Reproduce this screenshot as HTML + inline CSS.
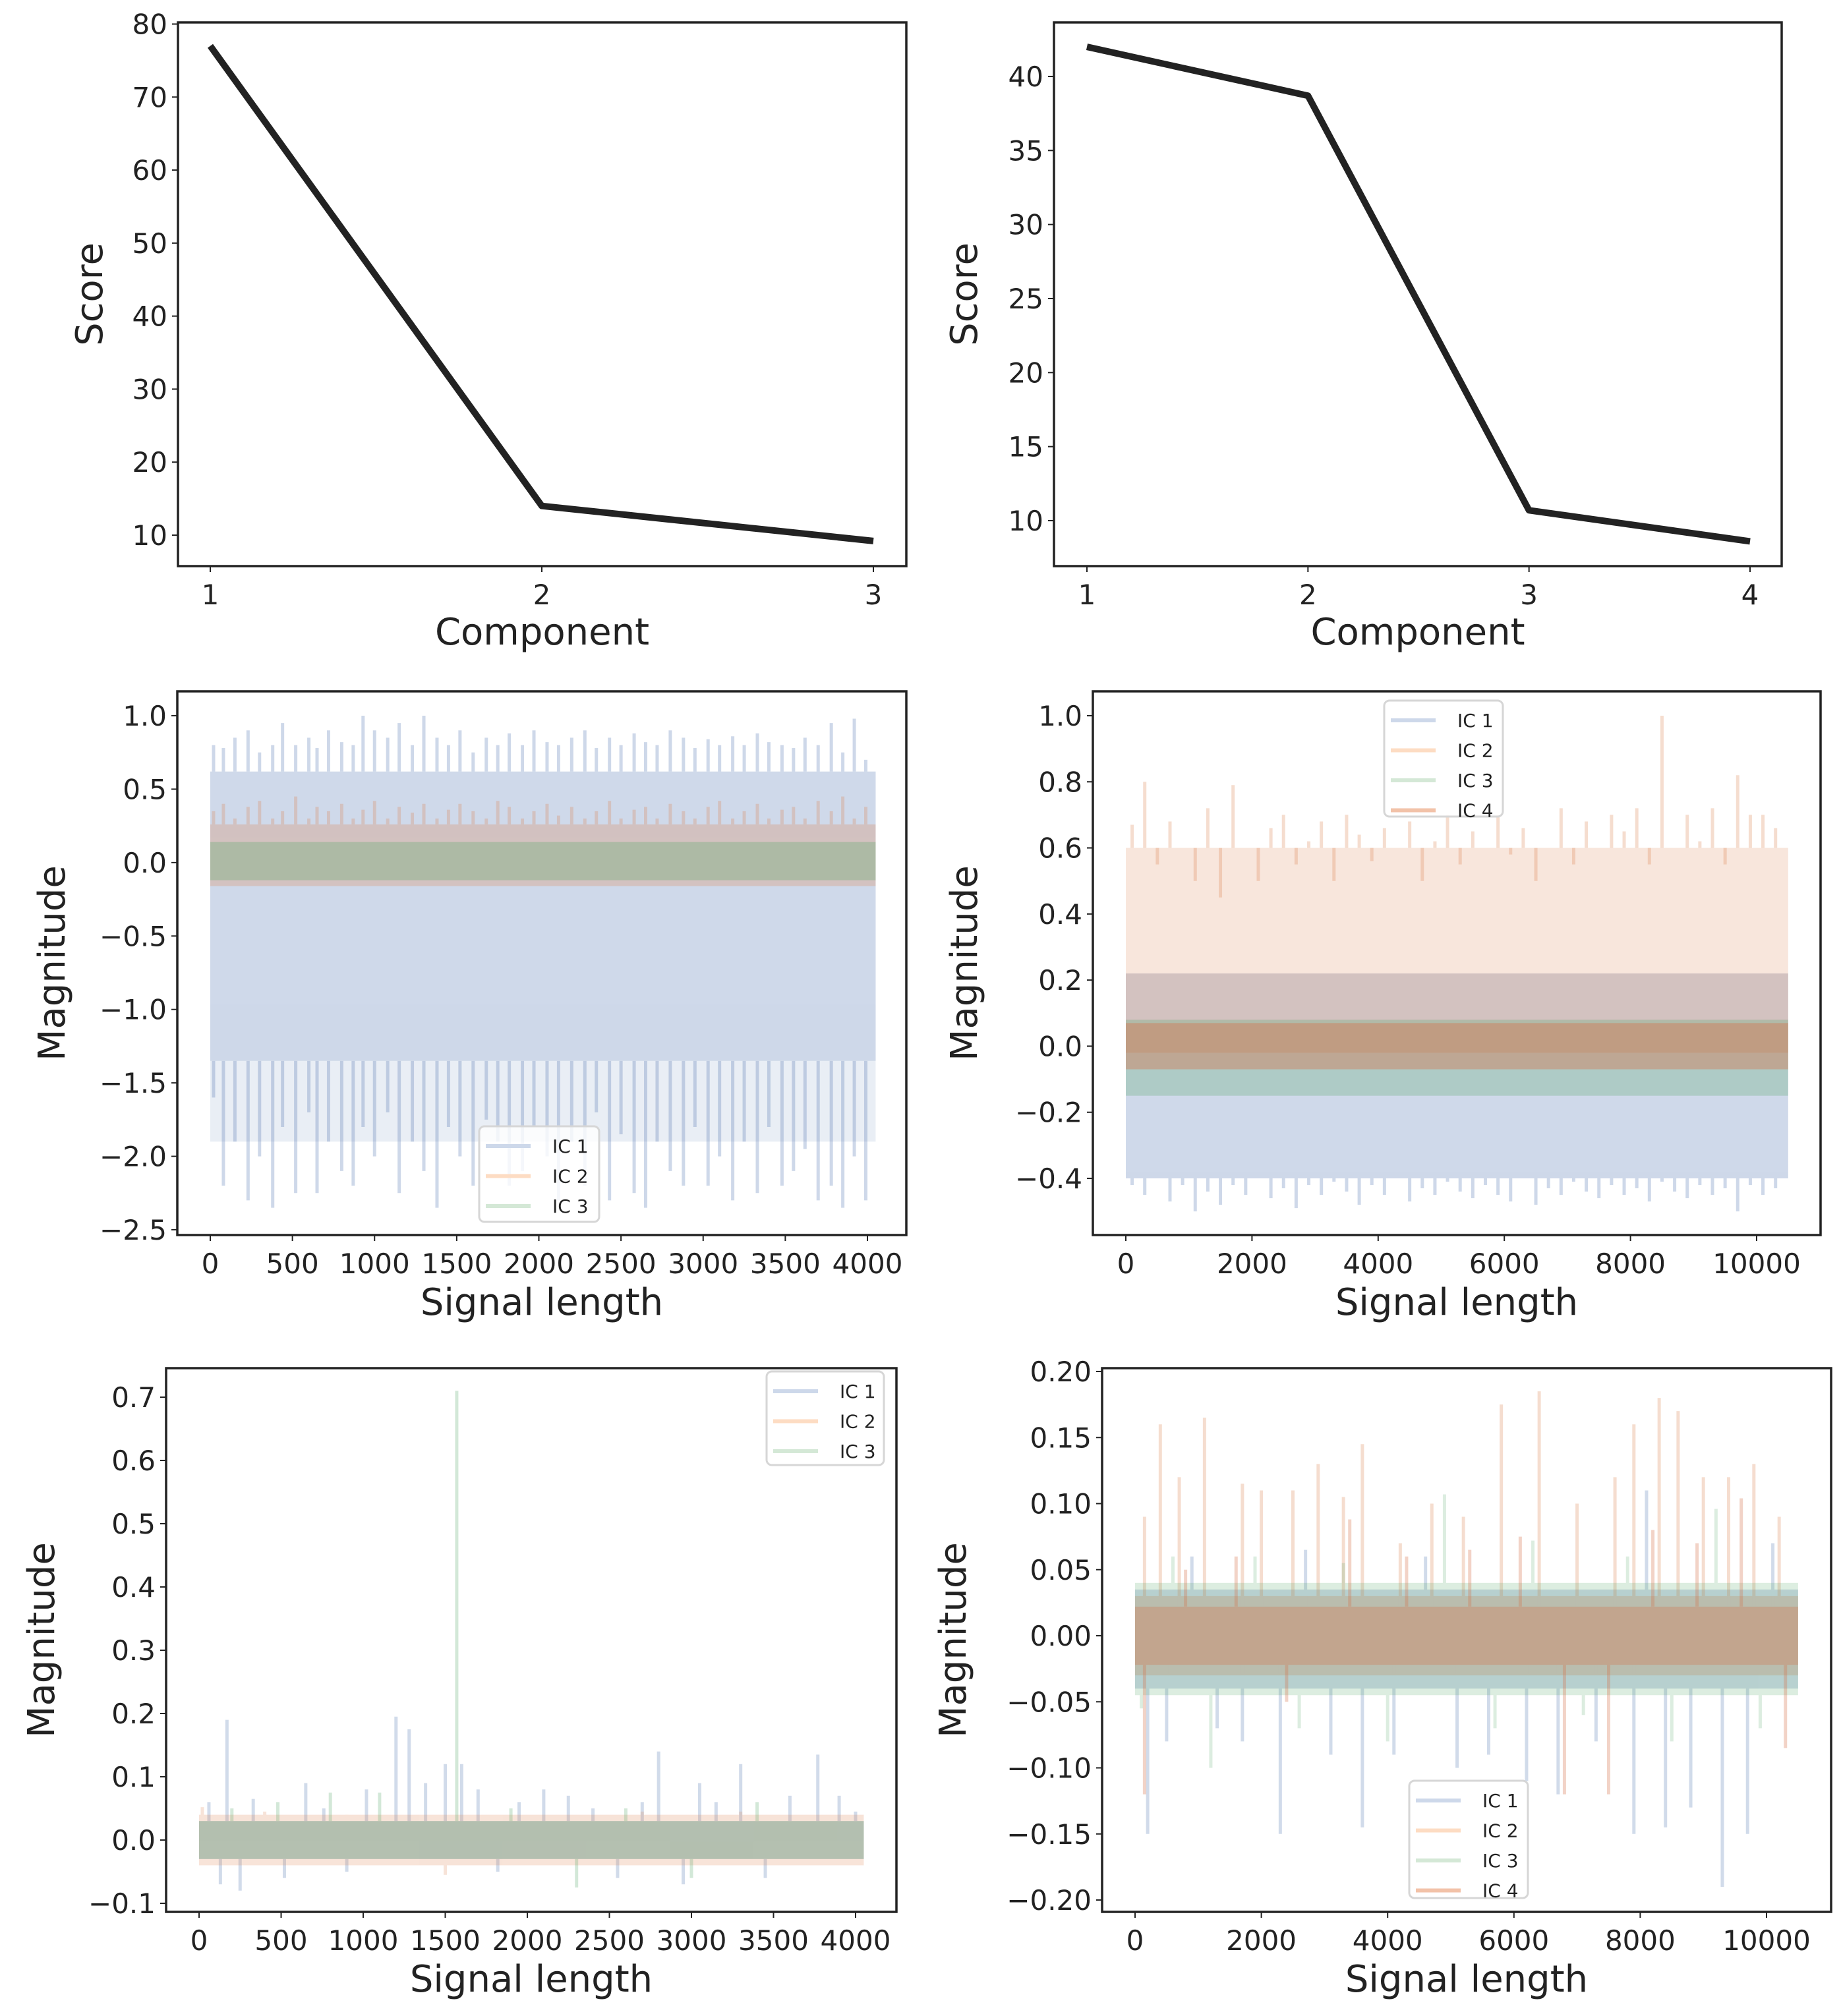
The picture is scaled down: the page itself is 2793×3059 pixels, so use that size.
<!DOCTYPE html>
<html><head><meta charset="utf-8">
<style>
html,body{margin:0;padding:0;background:#fff;}
svg{display:block;font-family:"DejaVu Sans","Liberation Sans",sans-serif;}
</style></head>
<body>
<svg id="fig" width="2793" height="3059" viewBox="0 0 2793 3059" xmlns="http://www.w3.org/2000/svg"></svg>
<script>
// ---------- data ----------
const comp1 = [1, 2, 3];
const score1 = [77, 14, 9.2];
const comp2 = [1, 2, 3, 4];
const score2 = [42, 38.7, 10.7, 8.6];

// Panel C (ICA, 3 ICs, length ~4050)
const cCore1 = [-1.35, 0.62];
const cFringe1 = [-1.9, -1.35];
const cCore2 = [-0.16, 0.26];
const cCore3 = [-0.12, 0.14];
const cSpikeX1 = [20,80,150,230,300,380,440,520,600,650,720,800,870,930,1000,1080,1150,1230,1300,1380,1450,1520,1600,1680,1750,1820,1900,1970,2050,2120,2200,2280,2350,2430,2500,2580,2650,2720,2800,2880,2950,3030,3100,3180,3250,3330,3400,3480,3550,3620,3700,3780,3850,3920,3990];
const cSpikeLo1 = [-1.6,-2.2,-1.9,-2.3,-2.0,-2.35,-1.8,-2.25,-1.7,-2.25,-1.9,-2.1,-2.2,-1.8,-2.0,-1.7,-2.25,-1.9,-2.1,-2.35,-1.8,-2.0,-2.2,-1.75,-1.9,-2.2,-2.1,-1.8,-2.0,-2.3,-1.9,-2.2,-1.7,-2.3,-1.85,-2.25,-2.35,-1.9,-2.1,-2.2,-1.8,-2.2,-2.0,-2.3,-1.9,-2.25,-1.8,-2.2,-2.1,-1.95,-2.3,-2.2,-2.35,-2.0,-2.3];
const cSpikeHi1 = [0.8,0.78,0.85,0.9,0.75,0.8,0.95,0.8,0.85,0.78,0.9,0.82,0.8,1.0,0.9,0.85,0.95,0.8,1.0,0.85,0.8,0.9,0.75,0.85,0.8,0.88,0.8,0.9,0.82,0.8,0.85,0.9,0.78,0.85,0.8,0.88,0.82,0.8,0.9,0.85,0.78,0.84,0.8,0.86,0.8,0.88,0.82,0.8,0.78,0.85,0.8,0.95,0.75,0.98,0.7];
const cSpikeHi2 = [0.35,0.4,0.3,0.38,0.42,0.3,0.35,0.45,0.3,0.38,0.35,0.4,0.3,0.36,0.42,0.3,0.38,0.34,0.4,0.3,0.36,0.4,0.35,0.3,0.42,0.38,0.3,0.35,0.4,0.32,0.38,0.3,0.35,0.42,0.3,0.36,0.38,0.3,0.4,0.35,0.3,0.38,0.42,0.3,0.35,0.4,0.3,0.36,0.38,0.3,0.42,0.35,0.45,0.3,0.38];

// Panel D (4 ICs, length ~10500)
const dCore1 = [-0.4, 0.22];
const dCore2 = [-0.02, 0.22];
const dFringe2 = [0.22, 0.6];
const dCore3 = [-0.15, 0.08];
const dCore4 = [-0.07, 0.07];
const dSpikeX = [100,300,500,700,900,1100,1300,1500,1700,1900,2100,2300,2500,2700,2900,3100,3300,3500,3700,3900,4100,4300,4500,4700,4900,5100,5300,5500,5700,5900,6100,6300,6500,6700,6900,7100,7300,7500,7700,7900,8100,8300,8500,8700,8900,9100,9300,9500,9700,9900,10100,10300];
const dSpikeLo1 = [-0.42,-0.45,-0.4,-0.47,-0.42,-0.5,-0.44,-0.48,-0.42,-0.45,-0.4,-0.46,-0.43,-0.49,-0.42,-0.45,-0.41,-0.44,-0.48,-0.42,-0.45,-0.4,-0.47,-0.43,-0.45,-0.41,-0.44,-0.46,-0.42,-0.45,-0.47,-0.4,-0.48,-0.43,-0.45,-0.41,-0.44,-0.46,-0.42,-0.45,-0.43,-0.47,-0.41,-0.44,-0.46,-0.42,-0.45,-0.43,-0.5,-0.42,-0.45,-0.43];
const dSpikeHi2 = [0.67,0.8,0.55,0.68,0.6,0.5,0.72,0.45,0.79,0.6,0.5,0.66,0.7,0.55,0.62,0.68,0.5,0.7,0.64,0.56,0.66,0.6,0.68,0.5,0.62,0.7,0.55,0.65,0.6,0.7,0.58,0.66,0.5,0.6,0.72,0.55,0.68,0.6,0.7,0.65,0.72,0.55,1.0,0.6,0.7,0.62,0.72,0.55,0.82,0.7,0.7,0.66];

// Panel E (3 ICs, length ~4050)
const eCore = [-0.03, 0.03];
const eSpikeX1 = [60,130,170,250,330,520,650,760,900,1020,1200,1280,1380,1500,1600,1700,1820,1950,2100,2250,2400,2550,2700,2800,2950,3050,3150,3300,3450,3600,3770,3900,4000];
const eSpikeV1 = [0.06,-0.07,0.19,-0.08,0.065,-0.06,0.09,0.05,-0.05,0.08,0.195,0.175,0.09,0.12,0.12,0.08,-0.05,0.06,0.08,0.07,0.05,-0.06,0.06,0.14,-0.07,0.09,0.06,0.12,-0.06,0.07,0.135,0.07,0.045];
const eSpikeX3 = [200,480,800,1100,1570,1900,2300,2600,3000,3400];
const eSpikeV3 = [0.05,0.06,0.075,0.075,0.71,0.05,-0.075,0.05,-0.06,0.06];
const eSpikeX2 = [20,400,900,1500,2100,2700,3300,3900];
const eSpikeV2 = [0.052,0.045,0.04,-0.055,0.04,0.045,0.045,0.04];

// Panel F (4 ICs, length ~10500)
const fCore = [-0.022, 0.022];
const fSpikeX2 = [150,400,700,1100,1700,2000,2500,2900,3300,3600,4200,4700,5200,5800,6400,7000,7600,7900,8300,8600,9000,9400,9800,10200];
const fSpikeV2 = [0.09,0.16,0.12,0.165,0.115,0.11,0.11,0.13,0.105,0.145,0.07,0.1,0.09,0.175,0.185,0.1,0.12,0.16,0.18,0.17,0.12,0.12,0.13,0.09];
const fSpikeX1 = [200,500,900,1300,1700,2300,2700,3100,3600,4100,4600,5100,5600,6200,6700,7300,7900,8100,8400,8800,9300,9700,10100];
const fSpikeV1 = [-0.15,-0.08,0.06,-0.07,-0.08,-0.15,0.065,-0.09,-0.145,-0.09,0.06,-0.1,-0.09,-0.11,-0.12,-0.08,-0.15,0.11,-0.145,-0.13,-0.19,-0.15,0.07];
const fSpikeX3 = [100,600,1200,1900,2600,3300,4000,4900,5700,6300,7100,7800,8500,9200,9900];
const fSpikeV3 = [-0.055,0.06,-0.1,0.06,-0.07,0.055,-0.08,0.107,-0.07,0.072,-0.06,0.06,-0.08,0.096,-0.07];
const fSpikeX4 = [150,800,1600,2400,3400,4300,5300,6100,6800,7500,8200,8900,9600,10300];
const fSpikeV4 = [-0.12,0.05,0.06,-0.05,0.088,0.06,0.065,0.075,-0.12,-0.12,0.08,0.07,0.104,-0.085];

// ---------- drawing ----------
const NS = "http://www.w3.org/2000/svg";
const svg = document.getElementById('fig');
function el(tag, attrs, parent){
  const e = document.createElementNS(NS, tag);
  for (const k in attrs) e.setAttribute(k, attrs[k]);
  (parent||svg).appendChild(e);
  return e;
}
function lin(v0,p0,v1,p1){ return v => p0 + (v - v0) * (p1 - p0) / (v1 - v0); }
const COL = ['rgb(76,114,176)','rgb(221,132,82)','rgb(85,168,104)','rgb(214,112,72)'];
const COL_LEG = ['#cdd8ea','#fddcc3','#d4e8d6','#f2c2a8'];

function axes(p){
  const g = el('g', {});
  
  
  p.g = g;
  p.X = lin(p.xm[0],p.xm[1],p.xm[2],p.xm[3]);
  p.Y = lin(p.ym[0],p.ym[1],p.ym[2],p.ym[3]);
  const clip = el('clipPath', {id: p.name + '-clip'}, g);
  el('rect', {x:p.x0, y:p.y0, width:p.x1-p.x0, height:p.y1-p.y0}, clip);
  p.plot = el('g', {'clip-path': 'url(#' + p.name + '-clip)'}, g);
  
  
  return p;
}
function frame(p){
  const g = p.g;
  const fr = el('rect', {x:p.x0, y:p.y0, width:p.x1-p.x0, height:p.y1-p.y0, fill:'none', stroke:'#222', 'stroke-width':3.5}, g);
  
  
  const xt = el('g', {}, g);
  
  
  p.xticks.forEach((v, i) => {
    const x = p.X(v);
    el('line', {x1:x, x2:x, y1:p.y1, y2:p.y1+9, stroke:'#222', 'stroke-width':2}, xt);
    const t = el('text', {x:x, y:p.y1+58, 'text-anchor':'middle', 'font-size':42, fill:'#222'}, xt);
    t.textContent = p.xlabels[i];
  });
  const yt = el('g', {}, g);
  
  
  p.yticks.forEach((v, i) => {
    const y = p.Y(v);
    el('line', {x1:p.x0-9, x2:p.x0, y1:y, y2:y, stroke:'#222', 'stroke-width':2}, yt);
    const t = el('text', {x:p.x0-16, y:y+15, 'text-anchor':'end', 'font-size':42, fill:'#222'}, yt);
    t.textContent = p.ylabels[i];
  });
  const xl = el('text', {x:(p.x0+p.x1)/2, y:p.xtitleY, 'text-anchor':'middle', 'font-size':56, fill:'#222'}, g);
  xl.textContent = p.xtitle;
  
  
  const cy = (p.y0+p.y1)/2;
  const yl = el('text', {x:p.ytitleX, y:cy, 'text-anchor':'middle', 'font-size':56, fill:'#222', transform:'rotate(-90 '+p.ytitleX+' '+cy+')'}, g);
  yl.textContent = p.ytitle;
  
  
}
function linePlot(p, xs, ys){
  const d = xs.map((x, i) => (i ? 'L' : 'M') + p.X(x) + ' ' + p.Y(ys[i])).join(' ');
  const path = el('path', {d:d, fill:'none', stroke:'#222', 'stroke-width':10, 'stroke-linejoin':'round'}, p.plot);
  
  
}
function signal(p, idx, core, xmax, spikeX, spikeV, opacity, base){
  const g = el('g', {opacity: opacity || 0.27}, p.plot);
  
  
  if (core){
    const r = el('rect', {x:p.X(0), y:p.Y(core[1]), width:p.X(xmax)-p.X(0), height:p.Y(core[0])-p.Y(core[1]), fill:COL[idx]}, g);
    
    
  }
  if (spikeX) spikeX.forEach((x, i) => {
    const v = spikeV[i];
    const b = base ? (v < 0 ? base[0] : base[1]) : 0;
    const ln = el('line', {x1:p.X(x), x2:p.X(x), y1:p.Y(b), y2:p.Y(v), stroke:COL[idx], 'stroke-width':5}, g);
    
    
  });
}
function legend(p, x, y, w, h, n){
  const g = el('g', {}, p.g);
  
  
  el('rect', {x:x, y:y, width:w, height:h, rx:8, fill:'rgba(255,255,255,0.8)', stroke:'#d6d6d6', 'stroke-width':3}, g);
  for (let i = 0; i < n; i++){
    const yy = y + 30 + i*45.5;
    const e = el('g', {}, g);
    
    
    el('line', {x1:x+10, x2:x+78, y1:yy, y2:yy, stroke:COL_LEG[i], 'stroke-width':6}, e);
    const t = el('text', {x:x+111, y:yy+10, 'font-size':28, fill:'#222'}, e);
    t.textContent = 'IC ' + (i+1);
  }
}

// Panel A
const pA = axes({name:'score-plot-a', x0:270, x1:1375, y0:34, y1:859, xm:[1,319,3,1325], ym:[80,36.5,10,812],
  xticks:[1,2,3], xlabels:['1','2','3'], yticks:[10,20,30,40,50,60,70,80], ylabels:['10','20','30','40','50','60','70','80'],
  xtitle:'Component', ytitle:'Score', xtitleY:978, ytitleX:155});
linePlot(pA, comp1, score1); frame(pA);

// Panel B
const pB = axes({name:'score-plot-b', x0:1599, x1:2703, y0:34, y1:859, xm:[1,1649,4,2655], ym:[40,116,10,790],
  xticks:[1,2,3,4], xlabels:['1','2','3','4'], yticks:[10,15,20,25,30,35,40], ylabels:['10','15','20','25','30','35','40'],
  xtitle:'Component', ytitle:'Score', xtitleY:978, ytitleX:1482});
linePlot(pB, comp2, score2); frame(pB);

// Panel C
const pC = axes({name:'signal-plot-c', x0:269, x1:1375, y0:1049, y1:1874, xm:[0,319,4000,1316], ym:[1.0,1086,-2.5,1866],
  xticks:[0,500,1000,1500,2000,2500,3000,3500,4000], xlabels:['0','500','1000','1500','2000','2500','3000','3500','4000'],
  yticks:[1.0,0.5,0,-0.5,-1.0,-1.5,-2.0,-2.5], ylabels:['1.0','0.5','0.0','\u22120.5','\u22121.0','\u22121.5','\u22122.0','\u22122.5'],
  xtitle:'Signal length', ytitle:'Magnitude', xtitleY:1995, ytitleX:98});
signal(pC, 0, cCore1, 4050, cSpikeX1, cSpikeLo1, 0.27, cCore1);
signal(pC, 0, cFringe1, 4050, null, null, 0.12);
signal(pC, 0, null, 4050, cSpikeX1, cSpikeHi1, 0.27, cCore1);
signal(pC, 1, cCore2, 4050, cSpikeX1, cSpikeHi2, 0.27, cCore2);
signal(pC, 2, cCore3, 4050, null, null, 0.3);
frame(pC); legend(pC, 727, 1709, 182, 145, 3);

// Panel D
const pD = axes({name:'signal-plot-d', x0:1658, x1:2762, y0:1049, y1:1874, xm:[0,1708,10000,2665], ym:[1.0,1086,-0.4,1788],
  xticks:[0,2000,4000,6000,8000,10000], xlabels:['0','2000','4000','6000','8000','10000'],
  yticks:[1.0,0.8,0.6,0.4,0.2,0,-0.2,-0.4], ylabels:['1.0','0.8','0.6','0.4','0.2','0.0','\u22120.2','\u22120.4'],
  xtitle:'Signal length', ytitle:'Magnitude', xtitleY:1995, ytitleX:1482});
signal(pD, 0, dCore1, 10500, dSpikeX, dSpikeLo1, 0.27, dCore1);
signal(pD, 1, dCore2, 10500, dSpikeX, dSpikeHi2, 0.27, dFringe2);
signal(pD, 1, dFringe2, 10500, null, null, 0.2);
signal(pD, 2, dCore3, 10500, null, null, 0.27);
signal(pD, 3, dCore4, 10500, null, null, 0.4);
frame(pD); legend(pD, 2100, 1063, 180, 176, 4);

// Panel E
const pE = axes({name:'signal-plot-e', x0:252, x1:1360, y0:2076, y1:2901, xm:[0,302,4000,1298], ym:[0.7,2120,-0.1,2888],
  xticks:[0,500,1000,1500,2000,2500,3000,3500,4000], xlabels:['0','500','1000','1500','2000','2500','3000','3500','4000'],
  yticks:[0.7,0.6,0.5,0.4,0.3,0.2,0.1,0,-0.1], ylabels:['0.7','0.6','0.5','0.4','0.3','0.2','0.1','0.0','\u22120.1'],
  xtitle:'Signal length', ytitle:'Magnitude', xtitleY:3022, ytitleX:82});
signal(pE, 0, eCore, 4050, eSpikeX1, eSpikeV1, 0.25, eCore);
signal(pE, 1, [-0.04,0.04], 4050, eSpikeX2, eSpikeV2, 0.22, eCore);
signal(pE, 2, eCore, 4050, eSpikeX3, eSpikeV3, 0.25, eCore);
frame(pE); legend(pE, 1163, 2081, 178, 142, 3);

// Panel F
const pF = axes({name:'signal-plot-f', x0:1672, x1:2778, y0:2076, y1:2901, xm:[0,1722,10000,2680], ym:[0.2,2081,-0.2,2883],
  xticks:[0,2000,4000,6000,8000,10000], xlabels:['0','2000','4000','6000','8000','10000'],
  yticks:[0.2,0.15,0.1,0.05,0,-0.05,-0.1,-0.15,-0.2], ylabels:['0.20','0.15','0.10','0.05','0.00','\u22120.05','\u22120.10','\u22120.15','\u22120.20'],
  xtitle:'Signal length', ytitle:'Magnitude', xtitleY:3022, ytitleX:1465});
signal(pF, 0, [-0.04,0.035], 10500, fSpikeX1, fSpikeV1, 0.25, fCore);
signal(pF, 1, [-0.03,0.03], 10500, fSpikeX2, fSpikeV2, 0.27, fCore);
signal(pF, 2, [-0.045,0.04], 10500, fSpikeX3, fSpikeV3, 0.2, fCore);
signal(pF, 3, fCore, 10500, fSpikeX4, fSpikeV4, 0.3, fCore);
frame(pF); legend(pF, 2138, 2702, 180, 178, 4);
</script>
</body></html>
